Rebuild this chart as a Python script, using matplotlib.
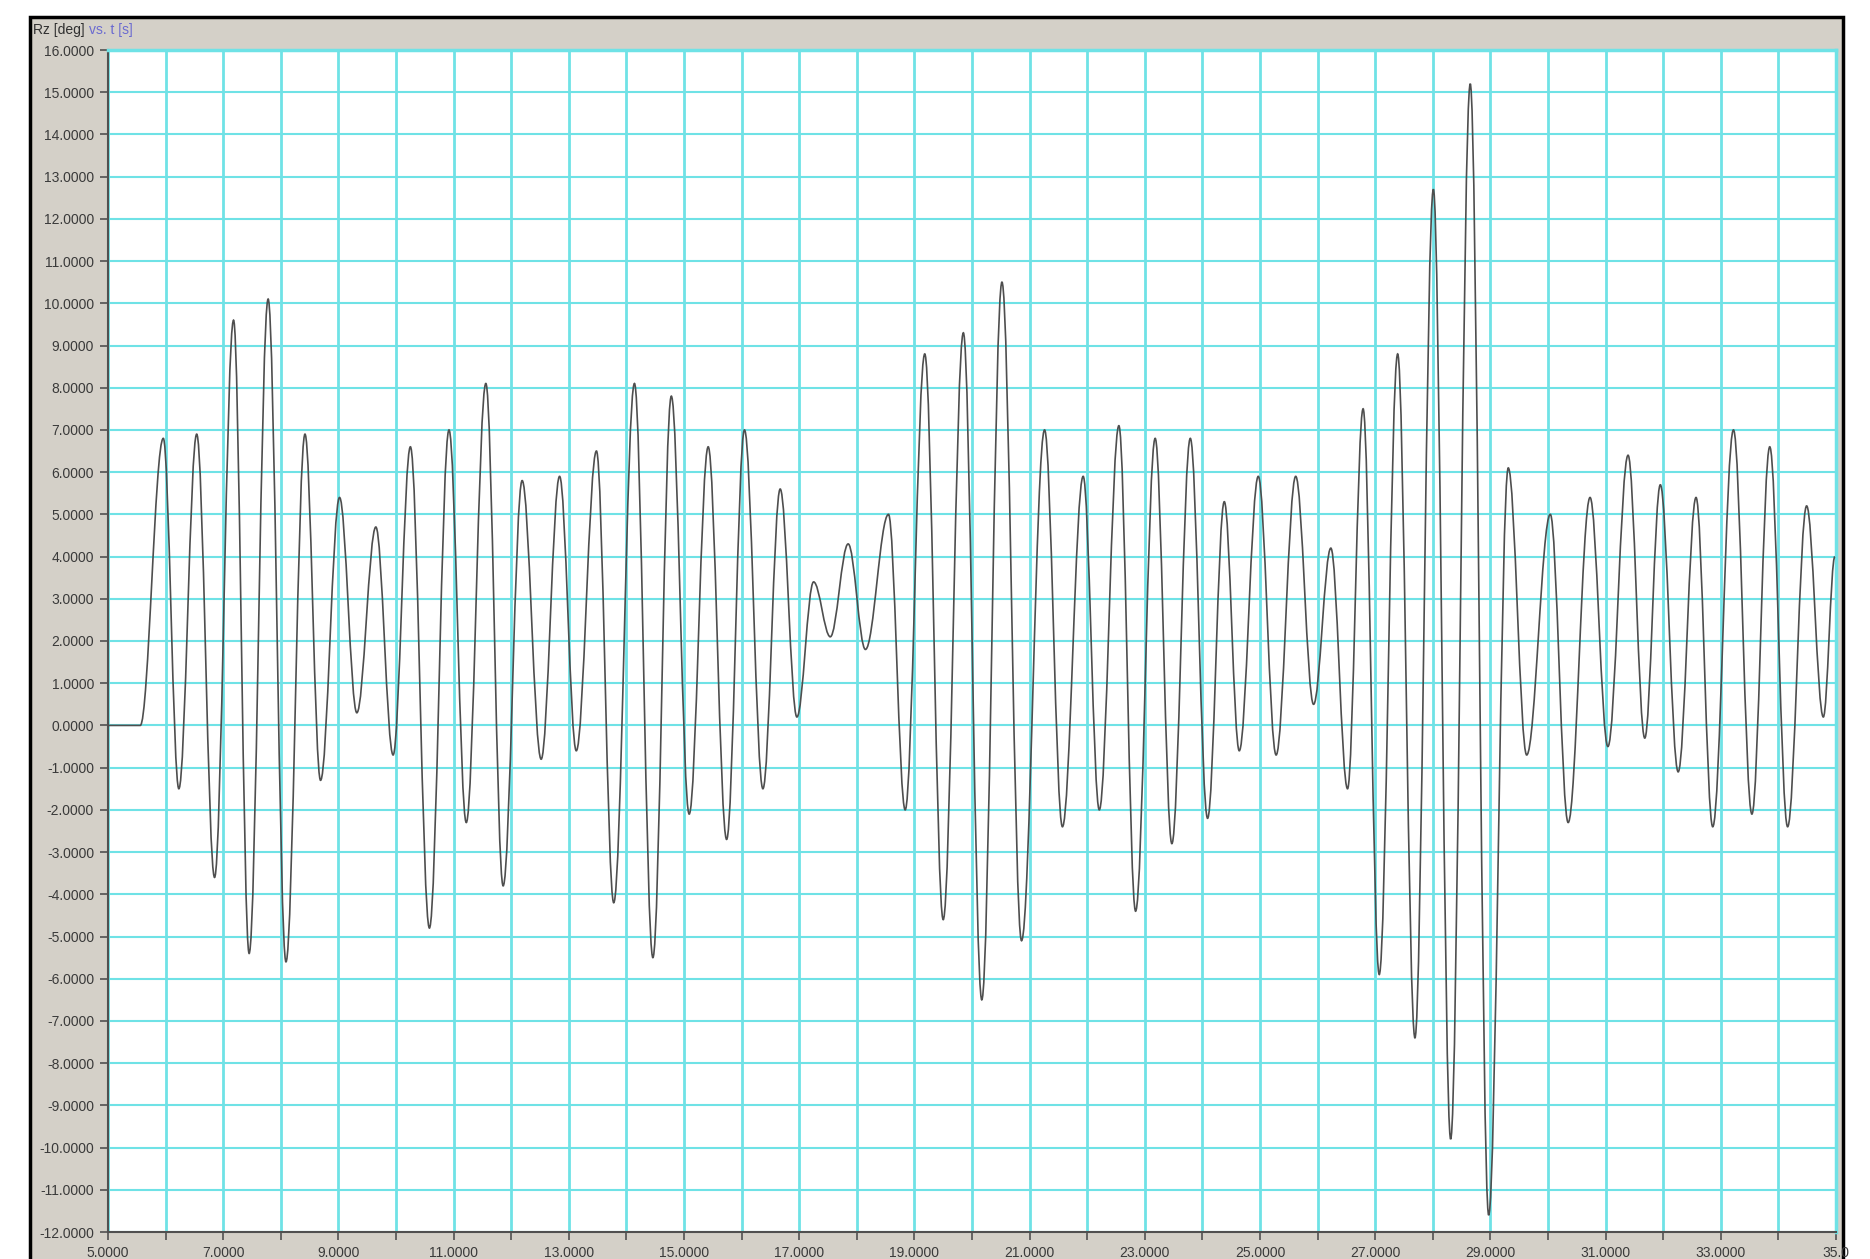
import matplotlib
matplotlib.use("Agg")
import matplotlib.pyplot as plt
from matplotlib.path import Path
from matplotlib.patches import PathPatch, Rectangle

# Peaks and troughs of Rz (time in s, angle in deg)
t_ext = [5.00, 5.56, 5.96, 6.23, 6.54, 6.85, 7.18, 7.45, 7.78, 8.09,
         8.42, 8.69, 9.02, 9.32, 9.65, 9.95, 10.25, 10.58, 10.92, 11.22,
         11.56, 11.86, 12.19, 12.52, 12.84, 13.13, 13.48, 13.78, 14.14, 14.46,
         14.78, 15.09, 15.42, 15.74, 16.05, 16.37, 16.67, 16.96, 17.25, 17.54,
         17.85, 18.15, 18.55, 18.84, 19.18, 19.50, 19.85, 20.17, 20.52, 20.86,
         21.26, 21.57, 21.93, 22.21, 22.55, 22.84, 23.18, 23.47, 23.79, 24.09,
         24.38, 24.64, 24.97, 25.28, 25.62, 25.93, 26.23, 26.52, 26.79, 27.07,
         27.39, 27.69, 28.01, 28.31, 28.65, 28.97, 29.31, 29.63, 30.04, 30.35,
         30.73, 31.04, 31.39, 31.68, 31.95, 32.26, 32.57, 32.86, 33.22, 33.54,
         33.85, 34.16, 34.49, 34.78, 34.98]
rz_ext = [0.0, 0.0, 6.8, -1.5, 6.9, -3.6, 9.6, -5.4, 10.1, -5.6,
          6.9, -1.3, 5.4, 0.3, 4.7, -0.7, 6.6, -4.8, 7.0, -2.3,
          8.1, -3.8, 5.8, -0.8, 5.9, -0.6, 6.5, -4.2, 8.1, -5.5,
          7.8, -2.1, 6.6, -2.7, 7.0, -1.5, 5.6, 0.2, 3.4, 2.1,
          4.3, 1.8, 5.0, -2.0, 8.8, -4.6, 9.3, -6.5, 10.5, -5.1,
          7.0, -2.4, 5.9, -2.0, 7.1, -4.4, 6.8, -2.8, 6.8, -2.2,
          5.3, -0.6, 5.9, -0.7, 5.9, 0.5, 4.2, -1.5, 7.5, -5.9,
          8.8, -7.4, 12.7, -9.8, 15.2, -11.6, 6.1, -0.7, 5.0, -2.3,
          5.4, -0.5, 6.4, -0.3, 5.7, -1.1, 5.4, -2.4, 7.0, -2.1,
          6.6, -2.4, 5.2, 0.2, 4.0]

x_ticks = list(range(5, 36))
x_labels = ["%.4f" % x if x % 2 == 1 else "" for x in x_ticks]
x_labels[-1] = "35.0"
y_ticks = list(range(-12, 17))
y_labels = ["%.4f" % y for y in y_ticks]

grey = "#d4d0c8"
cyan = "#6fe2e6"
txt = "#3a3a3a"

fig = plt.figure(figsize=(18.7, 12.59), dpi=100)
fig.patch.set_facecolor("white")

# Grey window panel with black frame, kept behind the axes
panel = Rectangle((30 / 1870, -0.01), 1813 / 1870, 1.01 - 17 / 1259,
                  transform=fig.transFigure, facecolor=grey,
                  edgecolor="black", linewidth=2.5, zorder=-10)
fig.patches.append(panel)

ax = fig.add_axes([108 / 1870, 1 - 1232 / 1259, 1728 / 1870, 1182 / 1259])
ax.set_zorder(5)
ax.set_facecolor("white")
ax.set_xlim(5, 35)
ax.set_ylim(-12, 16)

# Smooth trace through the extrema (horizontal tangent at each peak/trough)
verts = [(t_ext[0], rz_ext[0])]
codes = [Path.MOVETO]
for i in range(1, len(t_ext)):
    dt = t_ext[i] - t_ext[i - 1]
    verts += [(t_ext[i - 1] + 0.36 * dt, rz_ext[i - 1]),
              (t_ext[i] - 0.36 * dt, rz_ext[i]),
              (t_ext[i], rz_ext[i])]
    codes += [Path.CURVE4] * 3
ax.add_patch(PathPatch(Path(verts, codes), facecolor="none",
                       edgecolor="#4e4e4e", linewidth=1.2, zorder=3))

ax.set_xticks(x_ticks)
ax.set_xticklabels(x_labels)
ax.set_yticks(y_ticks)
ax.set_yticklabels(y_labels)
ax.grid(True, axis="x", color=cyan, linewidth=2.0, zorder=1)
ax.grid(True, axis="y", color=cyan, linewidth=1.5, zorder=1)
ax.set_axisbelow(True)
ax.tick_params(axis="both", direction="out", length=6, width=1.2,
               color="#505050", labelsize=10, labelcolor=txt, pad=4)
for lab in ax.get_xticklabels() + ax.get_yticklabels():
    lab.set_family("Liberation Sans")

for side in ["left", "bottom"]:
    ax.spines[side].set_color("#505050")
    ax.spines[side].set_linewidth(1.5)
for side in ["top", "right"]:
    ax.spines[side].set_color(cyan)
    ax.spines[side].set_linewidth(2.5)

fig.text(33 / 1870, 1 - 30 / 1259, "Rz [deg]", fontsize=10, color="#303030",
         family="Liberation Sans", va="center", ha="left")
fig.text(89 / 1870, 1 - 30 / 1259, "vs. t [s]", fontsize=10, color="#6a6ad0",
         family="Liberation Sans", va="center", ha="left")

fig.savefig("out.png", dpi=100, facecolor=fig.get_facecolor())
